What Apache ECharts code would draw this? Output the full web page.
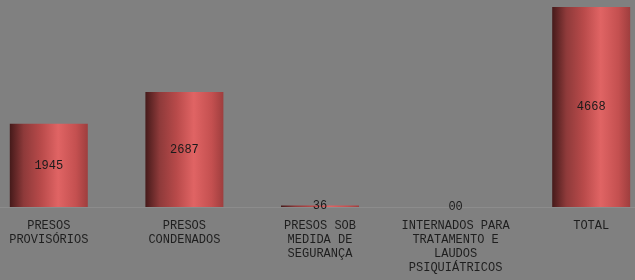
<!DOCTYPE html>
<html>
<head>
<meta charset="utf-8">
<script src="https://cdn.jsdelivr.net/npm/echarts@6/dist/echarts.min.js"></script>
<style>
  html, body { margin: 0; padding: 0; background: #808080; }
  #main { width: 635px; height: 280px; }
</style>
</head>
<body>
<div id="main"></div>
<script>
var categories = [
  'PRESOS\nPROVISÓRIOS',
  'PRESOS\nCONDENADOS',
  'PRESOS SOB\nMEDIDA DE\nSEGURANÇA',
  'INTERNADOS PARA\nTRATAMENTO E\nLAUDOS\nPSIQUIÁTRICOS',
  'TOTAL'
];
var values = [1945, 2687, 36, 0, 4668];
var valueLabels = ['1945', '2687', '36', '00', '4668'];

var chart = echarts.init(document.getElementById('main'));

var barColor = new echarts.graphic.LinearGradient(0, 0, 1, 0, [
  { offset: 0, color: '#451a1a' },
  { offset: 0.18, color: '#8e3a3a' },
  { offset: 0.4, color: '#b84a4a' },
  { offset: 0.62, color: '#e06464' },
  { offset: 0.85, color: '#c45050' },
  { offset: 1, color: '#9e3e3e' }
]);

var option = {
  backgroundColor: '#808080',
  animation: false,
  grid: { left: -19, width: 678, top: 7, height: 200, outerBoundsMode: 'none', containLabel: false },
  xAxis: {
    type: 'category',
    data: categories,
    axisLine: { show: true, lineStyle: { color: '#8c8c8c', width: 1 } },
    axisTick: { show: false },
    axisLabel: {
      interval: 0,
      margin: 12,
      color: '#1e1e1e',
      fontFamily: 'Liberation Mono',
      fontSize: 12,
      lineHeight: 14
    }
  },
  yAxis: {
    type: 'value',
    min: 0,
    max: 4668,
    show: false,
    splitLine: { show: false }
  },
  series: [{
    type: 'bar',
    data: values,
    barWidth: 78,
    itemStyle: { color: barColor },
    label: {
      show: true,
      position: 'inside',
      color: '#1a1a1a',
      fontFamily: 'Liberation Mono',
      fontSize: 12,
      formatter: function (p) { return valueLabels[p.dataIndex]; }
    }
  }]
};

chart.setOption(option);
</script>
</body>
</html>
